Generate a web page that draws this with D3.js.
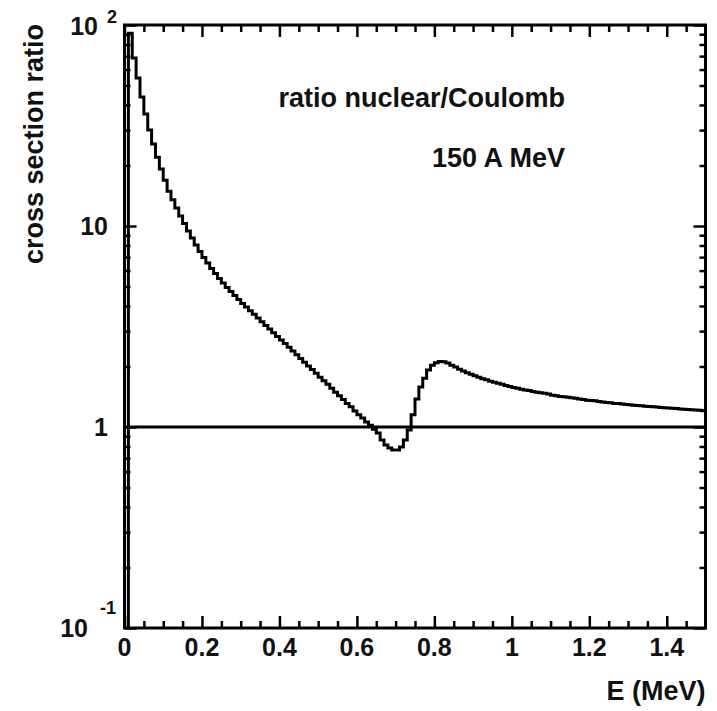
<!DOCTYPE html>
<html lang="en">
<head>
<meta charset="utf-8">
<title>cross section ratio</title>
<script src="https://cdn.jsdelivr.net/npm/d3@7"></script>
<style>
  body { margin: 0; background: #fff; }
  text { font-family: "Liberation Sans", Arial, Helvetica, sans-serif; font-weight: bold; fill: #111; }
</style>
</head>
<body>
<script>
// histogram of nuclear/Coulomb ratio, 0.01 MeV bins starting at 0
var binWidth = 0.01;
var ratio = [
  0.05, 91, 68.5, 54.5, 43.8, 36.1, 30.0, 25.6, 22.0, 19.2,
  16.9, 14.9, 13.5, 12.3, 11.2, 10.3, 9.44, 8.71, 8.04, 7.47,
  6.97, 6.55, 6.15, 5.80, 5.48, 5.21, 4.94, 4.72, 4.51, 4.31,
  4.12, 3.95, 3.79, 3.64, 3.49, 3.34, 3.20, 3.07, 2.94, 2.82,
  2.71, 2.60, 2.49, 2.39, 2.29, 2.19, 2.10, 2.01, 1.93, 1.85,
  1.77, 1.70, 1.63, 1.56, 1.49, 1.43, 1.37, 1.31, 1.26, 1.20,
  1.15, 1.11, 1.06, 1.02, 0.975, 0.934, 0.862, 0.814, 0.786, 0.768,
  0.768, 0.795, 0.862, 0.966, 1.15, 1.38, 1.58, 1.75, 1.92, 2.03,
  2.09, 2.12, 2.11, 2.08, 2.03, 1.99, 1.94, 1.90, 1.86, 1.83,
  1.80, 1.77, 1.74, 1.72, 1.69, 1.67, 1.65, 1.63, 1.61, 1.59,
  1.57, 1.56, 1.54, 1.53, 1.52, 1.50, 1.49, 1.48, 1.47, 1.46,
  1.44, 1.43, 1.42, 1.415, 1.405, 1.40, 1.39, 1.38, 1.37, 1.36,
  1.355, 1.35, 1.34, 1.33, 1.325, 1.32, 1.31, 1.31, 1.30, 1.295,
  1.29, 1.284, 1.278, 1.274, 1.27, 1.265, 1.26, 1.256, 1.252, 1.247,
  1.243, 1.239, 1.235, 1.23, 1.226, 1.222, 1.218, 1.214, 1.21, 1.205
];
var refLevel = 1;

var xMajor = [0, 0.2, 0.4, 0.6, 0.8, 1, 1.2, 1.4];
var xMajorLabels = ["0", "0.2", "0.4", "0.6", "0.8", "1", "1.2", "1.4"];
var xMinor = [0.05, 0.1, 0.15, 0.25, 0.3, 0.35, 0.45, 0.5, 0.55, 0.65, 0.7, 0.75,
              0.85, 0.9, 0.95, 1.05, 1.1, 1.15, 1.25, 1.3, 1.35, 1.45];
var yDecades = [0.1, 1, 10, 100];
var yMinor = [0.2, 0.3, 0.4, 0.5, 0.6, 0.7, 0.8, 0.9,
              2, 3, 4, 5, 6, 7, 8, 9,
              20, 30, 40, 50, 60, 70, 80, 90];

var width = 717;
var height = 711;
var pL = 124.5, pR = 705.5, pT = 25, pB = 628;

var svg = d3.select("body")
  .append("svg")
  .attr("width", width)
  .attr("height", height);

var x = d3.scaleLinear().domain([0, 1.5]).range([pL, pR]);
var y = d3.scaleLog().domain([0.1, 100]).range([pB, pT]);

svg.append("clipPath").attr("id", "plot")
  .append("rect")
  .attr("x", pL).attr("y", pT)
  .attr("width", pR - pL).attr("height", pB - pT);

// step histogram
var pts = ratio.map(function(v, i) { return [i * binWidth, v]; });
pts.push([ratio.length * binWidth, ratio[ratio.length - 1]]);

var line = d3.line()
  .x(function(d) { return x(d[0]); })
  .y(function(d) { return y(d[1]); })
  .curve(d3.curveStepAfter);

svg.append("path")
  .attr("clip-path", "url(#plot)")
  .attr("d", line(pts))
  .attr("fill", "none")
  .attr("stroke", "#000")
  .attr("stroke-width", 3);

svg.append("line")
  .attr("x1", x(0)).attr("x2", x(1.5))
  .attr("y1", y(refLevel)).attr("y2", y(refLevel))
  .attr("stroke", "#000")
  .attr("stroke-width", 3);

// ticks, all pointing inward
function axisTicks(axis, pos, vals, size) {
  svg.append("g")
    .attr("transform", pos)
    .call(axis.tickValues(vals).tickSize(size).tickFormat(""))
    .call(function(g) { g.select(".domain").remove(); })
    .selectAll("line").attr("stroke", "#000").attr("stroke-width", 2.5);
}
axisTicks(d3.axisBottom(x), "translate(0," + pB + ")", xMajor, -12);
axisTicks(d3.axisBottom(x), "translate(0," + pB + ")", xMinor, -7);
axisTicks(d3.axisTop(x), "translate(0," + pT + ")", xMajor, -12);
axisTicks(d3.axisTop(x), "translate(0," + pT + ")", xMinor, -7);
axisTicks(d3.axisLeft(y), "translate(" + pL + ",0)", yDecades, -12);
axisTicks(d3.axisLeft(y), "translate(" + pL + ",0)", yMinor, -6);
axisTicks(d3.axisRight(y), "translate(" + pR + ",0)", yDecades, -12);
axisTicks(d3.axisRight(y), "translate(" + pR + ",0)", yMinor, -6);

svg.append("rect")
  .attr("x", pL).attr("y", pT)
  .attr("width", pR - pL).attr("height", pB - pT)
  .attr("fill", "none")
  .attr("stroke", "#000")
  .attr("stroke-width", 3);

// x tick labels
svg.append("g").selectAll("text")
  .data(xMajor)
  .enter().append("text")
  .attr("x", function(d) { return x(d); })
  .attr("y", pB + 28)
  .attr("text-anchor", "middle")
  .style("font-size", "25px")
  .text(function(d, i) { return xMajorLabels[i]; });

// y tick labels (10 with raised exponent)
var yl = svg.append("g").style("font-size", "25px");
yl.append("text").attr("x", 88).attr("y", y(0.1) + 9).attr("text-anchor", "end").text("10");
yl.append("text").attr("x", 100).attr("y", y(0.1) - 14).style("font-size", "18px").text("-1");
yl.append("text").attr("x", 108).attr("y", y(1) + 9).attr("text-anchor", "end").text("1");
yl.append("text").attr("x", 108).attr("y", y(10) + 9).attr("text-anchor", "end").text("10");
yl.append("text").attr("x", 98).attr("y", y(100) + 10).attr("text-anchor", "end").text("10");
yl.append("text").attr("x", 107).attr("y", y(100) - 2).style("font-size", "18px").text("2");

// axis titles
svg.append("text")
  .attr("transform", "translate(43," + 144 + ") rotate(-90)")
  .attr("text-anchor", "middle")
  .style("font-size", "27px")
  .text("cross section ratio");

svg.append("text")
  .attr("x", pR).attr("y", 700)
  .attr("text-anchor", "end")
  .style("font-size", "27px")
  .text("E (MeV)");

svg.append("text")
  .attr("x", 565).attr("y", 107)
  .attr("text-anchor", "end")
  .style("font-size", "27px")
  .text("ratio nuclear/Coulomb");

svg.append("text")
  .attr("x", 565).attr("y", 167)
  .attr("text-anchor", "end")
  .style("font-size", "27px")
  .text("150 A MeV");
</script>
</body>
</html>
